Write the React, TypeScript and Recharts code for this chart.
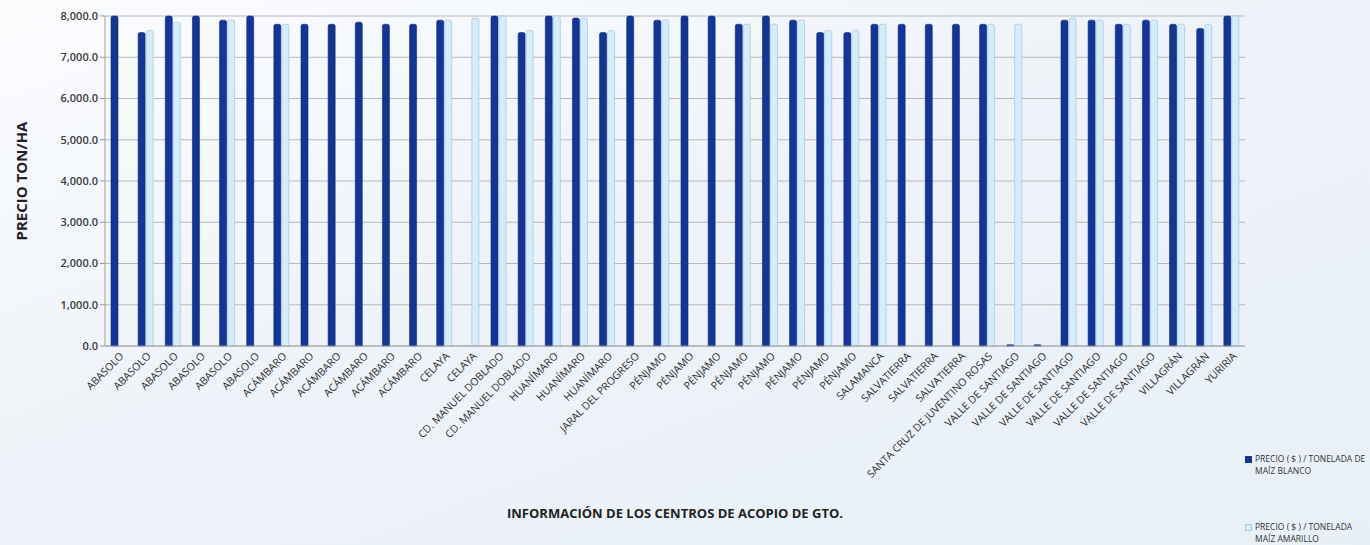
import { Bar, BarChart, CartesianGrid, XAxis, YAxis } from "recharts";

const categories = [
  "ABASOLO", "ABASOLO", "ABASOLO", "ABASOLO", "ABASOLO", "ABASOLO",
  "ACÁMBARO", "ACÁMBARO", "ACÁMBARO", "ACÁMBARO", "ACÁMBARO", "ACÁMBARO",
  "CELAYA", "CELAYA",
  "CD. MANUEL DOBLADO", "CD. MANUEL DOBLADO",
  "HUANÍMARO", "HUANÍMARO", "HUANÍMARO",
  "JARAL DEL PROGRESO",
  "PÉNJAMO", "PÉNJAMO", "PÉNJAMO", "PÉNJAMO", "PÉNJAMO", "PÉNJAMO", "PÉNJAMO", "PÉNJAMO",
  "SALAMANCA",
  "SALVATIERRA", "SALVATIERRA", "SALVATIERRA",
  "SANTA CRUZ DE JUVENTINO ROSAS",
  "VALLE DE SANTIAGO", "VALLE DE SANTIAGO", "VALLE DE SANTIAGO",
  "VALLE DE SANTIAGO", "VALLE DE SANTIAGO", "VALLE DE SANTIAGO",
  "VILLAGRÁN", "VILLAGRÁN",
  "YURIRIA",
];

// precio ($) / tonelada de maíz blanco
const blanco = [
  8000, 7600, 8000, 8000, 7900, 8000,
  7800, 7800, 7800, 7850, 7800, 7800,
  7900, null,
  8000, 7600,
  8000, 7950, 7600,
  8000,
  7900, 8000, 8000, 7800, 8000, 7900, 7600, 7600,
  7800,
  7800, 7800, 7800,
  7800,
  30, 30, 7900, 7900, 7800, 7900,
  7800, 7700,
  8000,
];

// precio ($) / tonelada maíz amarillo
const amarillo = [
  null, 7650, 7850, null, 7900, null,
  7800, null, null, null, null, null,
  7900, 7950,
  8000, 7650,
  8000, 7950, 7650,
  null,
  7900, null, null, 7800, 7800, 7900, 7650, 7650,
  7800,
  null, null, null,
  7800,
  7800, null, 7950, 7900, 7800, 7900,
  7800, 7800,
  8000,
];

const yTicks = [0, 1000, 2000, 3000, 4000, 5000, 6000, 7000, 8000];

const data = categories.map((name, i) => ({
  name,
  blanco: blanco[i],
  amarillo: amarillo[i],
}));

const FONT = "'Open Sans', 'Liberation Sans', sans-serif";
const DARK = "#143596";
const LIGHT = "#d5edfa";

const fmt = (v: number) =>
  v.toLocaleString("en-US", { minimumFractionDigits: 1, maximumFractionDigits: 1 });

function CategoryTick({ x, y, payload }: any) {
  return (
    <text
      x={x + 3}
      y={y}
      dy={4}
      transform={`rotate(-45, ${x + 3}, ${y})`}
      textAnchor="end"
      fontSize={10.5}
      fontFamily={FONT}
      fill="#2e2e2e"
    >
      {payload.value}
    </text>
  );
}

function LegendBox() {
  const item = (color: string, border: string, l1: string, l2: string, top: number) => (
    <div style={{ position: "absolute", left: 1245, top, display: "flex", gap: 3 }}>
      <div style={{ width: 5, height: 5, marginTop: 3, background: color, border: `0.5px solid ${border}` }} />
      <div style={{ fontSize: 8.5, lineHeight: "12px", color: "#333", fontFamily: FONT, whiteSpace: "nowrap" }}>
        {l1}
        <br />
        {l2}
      </div>
    </div>
  );
  return (
    <>
      {item(DARK, DARK, "PRECIO ( $ ) / TONELADA DE", "MAÍZ BLANCO", 453)}
      {item(LIGHT, "#a9c9df", "PRECIO ( $ ) / TONELADA", "MAÍZ AMARILLO", 521)}
    </>
  );
}

export default function App() {
  return (
    <div
      style={{
        position: "absolute",
        left: 0,
        top: 0,
        width: 1370,
        height: 545,
        overflow: "hidden",
        background: "linear-gradient(160deg, #fbfcfe 0%, #eef3f9 45%, #e8eff7 100%)",
      }}
    >
      <BarChart
        width={1370}
        height={545}
        data={data}
        margin={{ top: 16, right: 125, bottom: 0, left: 0 }}
        barSize={7}
        barGap={1}
      >
        <CartesianGrid horizontal vertical={false} stroke="#b8b8b8" />
        <XAxis
          dataKey="name"
          interval={0}
          height={199}
          tick={<CategoryTick />}
          tickLine={false}
          axisLine={{ stroke: "#a0a0a0" }}
          label={{
            value: "INFORMACIÓN DE LOS CENTROS DE ACOPIO DE GTO.",
            position: "insideBottom",
            offset: 27,
            fontSize: 13,
            fontWeight: 700,
            fontFamily: FONT,
            fill: "#222",
          }}
        />
        <YAxis
          width={105}
          domain={[0, 8000]}
          ticks={yTicks}
          tickFormatter={fmt}
          tick={{ fontSize: 11, fontFamily: FONT, fill: "#3a3a3a", fontWeight: 600 }}
          tickLine={{ stroke: "#999" }}
          tickSize={5}
          axisLine={{ stroke: "#a0a0a0" }}
          label={{
            content: ({ viewBox }: any) => {
              const cx = 21;
              const cy = viewBox.y + viewBox.height / 2;
              return (
                <text
                  x={cx}
                  y={cy}
                  transform={`rotate(-90, ${cx}, ${cy})`}
                  textAnchor="middle"
                  dominantBaseline="central"
                  fontSize={15}
                  fontWeight={700}
                  fontFamily={FONT}
                  fill="#222"
                >
                  PRECIO TON/HA
                </text>
              );
            },
          }}
        />
        <Bar
          dataKey="blanco"
          fill={DARK}
          stroke="#0c2878"
          strokeWidth={0.6}
          radius={[2, 2, 0, 0]}
          isAnimationActive={false}
        />
        <Bar
          dataKey="amarillo"
          fill={LIGHT}
          stroke="#a9c9df"
          strokeWidth={0.8}
          radius={[2, 2, 0, 0]}
          isAnimationActive={false}
        />
      </BarChart>
      <LegendBox />
    </div>
  );
}
